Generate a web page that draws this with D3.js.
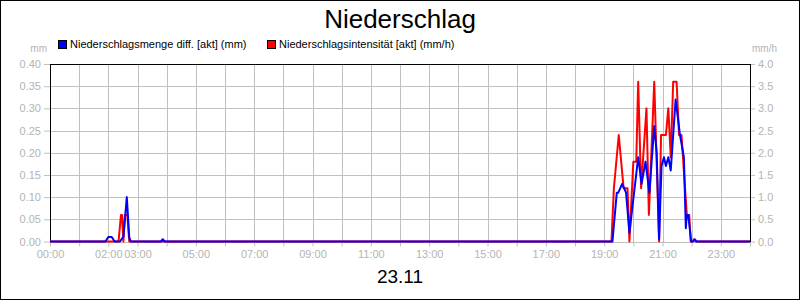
<!DOCTYPE html>
<html>
<head>
<meta charset="utf-8">
<script src="https://cdn.jsdelivr.net/npm/d3@7/dist/d3.min.js"></script>
<style>
  body { margin: 0; background: #fff; }
  svg { display: block; font-family: Arial, "Liberation Sans", sans-serif; }
</style>
</head>
<body>
<svg id="chart" width="800" height="300"></svg>
<script>
// Precipitation, 23.11 — vertices (time, value)
const mengeTimes = ["00:00", "01:54", "02:00", "02:07", "02:13", "02:24", "02:31", "02:38", "02:43", "02:46",
  "03:48", "03:52", "03:56", "19:17", "19:26", "19:29", "19:37", "19:45", "19:52", "20:10", "20:17",
  "20:25", "20:33", "20:43", "20:48", "20:53", "20:58", "21:03", "21:07", "21:12", "21:17", "21:27",
  "21:36", "21:44", "21:48", "21:50", "21:53", "21:59", "22:03", "22:06", "22:10", "24:00"];
const mengeValues = [0, 0, 0.01, 0.01, 0, 0, 0.011, 0.1, 0.01, 0,
  0, 0.005, 0, 0, 0.11, 0.11, 0.13, 0.11, 0.02, 0.19, 0.13,
  0.18, 0.11, 0.26, 0.2, 0.005, 0.17, 0.19, 0.17, 0.19, 0.16, 0.32,
  0.24, 0.19, 0.03, 0.06, 0.06, 0, 0, 0.005, 0, 0];

const intensTimes = ["00:00", "02:21", "02:26", "02:28", "02:31", "02:34", "02:39", "02:43", "19:15", "19:20",
  "19:30", "19:40", "19:48", "19:52", "20:00", "20:06", "20:10", "20:16", "20:27", "20:32", "20:43",
  "20:53", "20:57", "21:07", "21:12", "21:17", "21:22", "21:29", "21:34", "21:39", "21:50", "21:55",
  "21:58", "22:02", "22:05", "22:08", "24:00"];
const intensValues = [0, 0, 0.6, 0.6, 0, 0.6, 0.6, 0, 0, 1.2,
  2.4, 1.2, 1.2, 0, 1.8, 1.8, 3.6, 1.2, 3.0, 0.6, 3.6,
  0, 2.4, 2.4, 3.0, 1.9, 3.6, 3.6, 2.4, 2.4, 0.6, 0.6,
  0, 0, 0.05, 0, 0];

const leftTicks = [0, 0.05, 0.1, 0.15, 0.2, 0.25, 0.3, 0.35, 0.4];
const rightTicks = [0, 0.5, 1, 1.5, 2, 2.5, 3, 3.5, 4];
const timeLabels = ["00:00", "02:00", "03:00", "05:00", "07:00", "09:00", "11:00", "13:00",
  "15:00", "17:00", "19:00", "21:00", "23:00"];

const GRID = "#c0c0c0";
const LABEL = "#b4b4b4";

const svg = d3.select("#chart");
const plotL = 50, plotR = 750, plotT = 64, plotB = 241.5;

const day = new Date(2023, 10, 23);
const dayEnd = d3.timeDay.offset(day, 1);
const toDate = s => {
  const [h, m] = s.split(":").map(Number);
  return new Date(day.getTime() + (h * 60 + m) * 60000);
};

const x = d3.scaleTime().domain([day, dayEnd]).range([plotL, plotR]);
const yL = d3.scaleLinear().domain([0, 0.4]).range([plotB, plotT]);
const yR = d3.scaleLinear().domain([0, 4]).range([plotB, plotT]);

// outer frame
svg.append("rect").attr("x", 0.5).attr("y", 0.5).attr("width", 799).attr("height", 299)
  .attr("fill", "none").attr("stroke", "#000");

// title
svg.append("text").attr("x", 400).attr("y", 28).attr("text-anchor", "middle")
  .attr("font-size", 26).text("Niederschlag");

// legend
const legend = [
  { label: "Niederschlagsmenge diff. [akt] (mm)", color: "#0000ff", x: 58 },
  { label: "Niederschlagsintensität [akt] (mm/h)", color: "#ff0000", x: 267 }
];
legend.forEach(d => {
  svg.append("rect").attr("x", d.x + 0.5).attr("y", 40.5).attr("width", 8).attr("height", 8)
    .attr("fill", d.color).attr("stroke", "#000");
  svg.append("text").attr("x", d.x + 12).attr("y", 48).attr("font-size", 11).text(d.label);
});

// units
svg.append("text").attr("x", 47).attr("y", 52).attr("text-anchor", "end")
  .attr("font-size", 10).attr("fill", LABEL).text("mm");
svg.append("text").attr("x", 752).attr("y", 52)
  .attr("font-size", 10).attr("fill", LABEL).text("mm/h");

// grid
const hours = d3.timeHour.every(1).range(day, dayEnd);
hours.push(dayEnd);
const grid = svg.append("g").attr("shape-rendering", "crispEdges");
grid.selectAll(".vg").data(hours).join("line")
  .attr("x1", d => Math.round(x(d)) + 0.5).attr("x2", d => Math.round(x(d)) + 0.5)
  .attr("y1", plotT).attr("y2", plotB).attr("stroke", GRID);
grid.selectAll(".hg").data(leftTicks).join("line")
  .attr("x1", plotL).attr("x2", plotR)
  .attr("y1", d => Math.round(yL(d)) + 0.5).attr("y2", d => Math.round(yL(d)) + 0.5)
  .attr("stroke", GRID);

// axes
const fmtL = d3.format(".2f"), fmtR = d3.format(".1f"), fmtT = d3.timeFormat("%H:%M");
const axL = svg.append("g").attr("transform", `translate(${plotL},0)`)
  .call(d3.axisLeft(yL).tickValues(leftTicks).tickFormat(fmtL).tickSize(6).tickSizeOuter(0));
const axR = svg.append("g").attr("transform", `translate(${plotR},0)`)
  .call(d3.axisRight(yR).tickValues(rightTicks).tickFormat(fmtR).tickSize(5).tickSizeOuter(0));
const axB = svg.append("g").attr("transform", `translate(0,${plotB})`)
  .call(d3.axisBottom(x).tickValues(hours).tickSize(5).tickSizeOuter(0)
    .tickFormat(d => timeLabels.includes(fmtT(d)) && d < dayEnd ? fmtT(d) : ""));
[axL, axR, axB].forEach(a => {
  a.select(".domain").remove();
  a.selectAll(".tick line").attr("stroke", GRID);
  a.selectAll(".tick text").attr("fill", LABEL).attr("font-size", 11)
    .attr("font-family", "Arial, 'Liberation Sans', sans-serif");
});
axB.selectAll(".tick text").attr("dy", "0.85em").attr("y", 7);

// plot frame
svg.append("path").attr("d", `M${plotL + 0.5},${plotB}V${plotT + 0.5}H${plotR + 0.5}V${plotB}`)
  .attr("fill", "none").attr("stroke", "#000").attr("shape-rendering", "crispEdges");

// series
const intens = intensTimes.map((t, i) => ({ t: toDate(t), v: intensValues[i] }));
const menge = mengeTimes.map((t, i) => ({ t: toDate(t), v: mengeValues[i] }));

svg.append("path").datum(intens)
  .attr("d", d3.line().x(d => x(d.t)).y(d => yR(d.v)))
  .attr("fill", "none").attr("stroke", "#ff0000").attr("stroke-width", 2).attr("stroke-linejoin", "round");
svg.append("path").datum(menge)
  .attr("d", d3.line().x(d => x(d.t)).y(d => yL(d.v)))
  .attr("fill", "none").attr("stroke", "#0000ff").attr("stroke-width", 2).attr("stroke-linejoin", "round");

// date label
svg.append("text").attr("x", 400).attr("y", 283).attr("text-anchor", "middle")
  .attr("font-size", 19).text("23.11");
</script>
</body>
</html>
